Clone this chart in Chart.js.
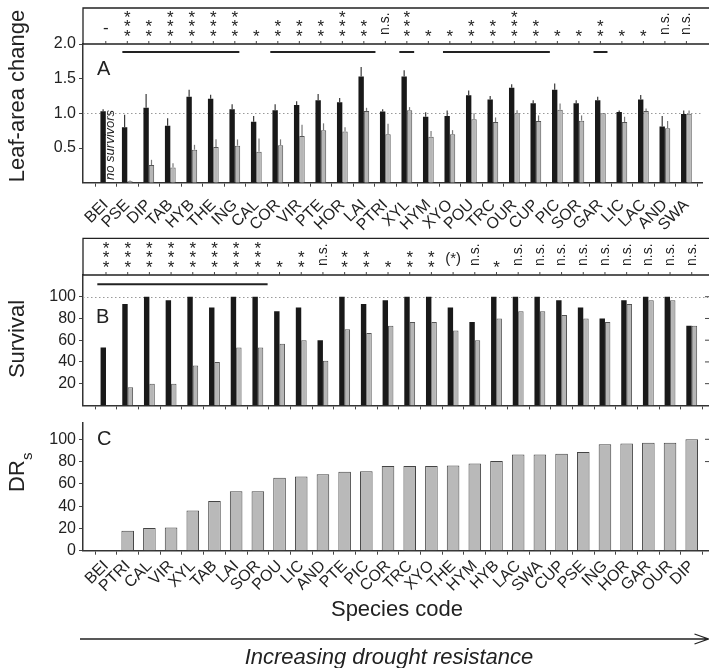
<!DOCTYPE html>
<html lang="en">
<head>
<meta charset="UTF-8">
<title>Leaf-area change, survival and drought resistance</title>
<script src="https://cdn.jsdelivr.net/npm/chart.js"></script>
<style>
  body { margin: 0; background: #fff; }
  #wrap { position: relative; width: 709px; height: 668px; overflow: hidden; }
  #wrap canvas { position: absolute; left: 0; }
  #panelA { top: 0; }
  #panelB { top: 234px; }
  #panelC { top: 410px; }
</style>
</head>
<body>
<div id="wrap">
  <canvas id="panelA" width="709" height="236"></canvas>
  <canvas id="panelB" width="709" height="184"></canvas>
  <canvas id="panelC" width="709" height="258"></canvas>
</div>
<script>
// species order for panels A and B
const speciesAB = ['BEI','PSE','DIP','TAB','HYB','THE','ING','CAL','COR','VIR','PTE','HOR','LAI','PTRI',
  'XYL','HYM','XYO','POU','TRC','OUR','CUP','PIC','SOR','GAR','LIC','LAC','AND','SWA'];

// A: leaf-area change (black = control, grey = drought), with SE
const leafControl   = [1.03,0.80,1.08,0.82,1.24,1.21,1.06,0.88,1.045,1.12,1.19,1.16,1.53,1.025,
  1.53,0.95,0.96,1.26,1.20,1.37,1.145,1.34,1.145,1.19,1.02,1.20,0.81,0.99];
const leafControlSE = [0.03,0.18,0.20,0.11,0.10,0.06,0.07,0.08,0.085,0.055,0.09,0.06,0.14,0.035,
  0.09,0.065,0.08,0.07,0.05,0.05,0.045,0.09,0.045,0.05,0.02,0.065,0.15,0.05];
const leafDrought   = [null,0.02,0.255,0.22,0.476,0.515,0.534,0.447,0.54,0.674,0.756,0.74,1.035,0.70,
  1.045,0.664,0.698,0.915,0.876,1.0,0.89,1.053,0.895,1.0,0.876,1.035,0.785,0.996];
const leafDroughtSE = [null,0.01,0.075,0.06,0.07,0.11,0.09,0.19,0.085,0.16,0.10,0.06,0.045,0.15,
  0.045,0.08,0.06,0.085,0.065,0.045,0.08,0.09,0.075,0,0.075,0.035,0.105,0.045];
const sigLeaf = ['-','***','**','***','***','***','***','*','**','**','**','***','**','n.s.',
  '***','*','*','**','**','***','**','*','*','**','*','*','n.s.','n.s.'];
const groupsLeaf = [[0.77,6.21],[7.65,12.54],[13.65,14.34],[15.68,20.65],[22.68,23.33]];

// B: survival (%)
const survControl = [53.3,93.3,100,96.7,100,90,100,100,86.7,90,60,100,93.3,96.7,
  100,100,90,76.7,100,100,100,96.7,90,80,96.7,100,100,73.3];
const survDrought = [null,16.7,20,20,36.7,40,53.3,53.3,56.7,60,41,70,66.7,73.3,
  76.7,76.7,69,60,80,86.7,86.7,83.3,80,76.7,93.3,96.7,96.7,73.3];
const sigSurv = ['***','***','***','***','***','***','***','***','*','**','n.s.','**','**','*',
  '**','**','(*)','n.s.','*','n.s.','n.s.','n.s.','n.s.','n.s.','n.s.','n.s.','n.s.','n.s.'];
const groupsSurv = [[-0.40,7.45]];

// C: drought resistance DRs, sorted
const speciesC = ['BEI','PTRI','CAL','VIR','XYL','TAB','LAI','SOR','POU','LIC','AND','PTE','PIC','COR',
  'TRC','XYO','THE','HYM','HYB','LAC','SWA','CUP','PSE','ING','HOR','GAR','OUR','DIP'];
const drs = [0,18,20.3,20.9,36,44.7,53.4,53.4,65.5,66.7,68.7,70.8,71.3,76,
  76,76,76.5,78.3,80.6,86.4,86.4,87,88.7,95.6,96.2,96.8,96.8,100];

const yTicksA = [0.5, 1.0, 1.5, 2.0];
const yTicksB = [20, 40, 60, 80, 100];
const yTicksC = [0, 20, 40, 60, 80, 100];

const FONT = "'Liberation Sans', Arial, sans-serif";
const INK = '#222';
const BLACK = '#191919';
const GREY = '#b6b6b6';
const X_MIN = -1.06, X_MAX = 27.75;

function pts(arr) { return arr.map((v, i) => ({ x: i, y: v })); }

function xAxis(labels, showLabels, height, pad) {
  return {
    type: 'linear', min: X_MIN, max: X_MAX, offset: false,
    afterBuildTicks: s => { s.ticks = labels.map((_, i) => ({ value: i })); },
    afterFit: s => { s.height = height; },
    ticks: {
      display: showLabels, autoSkip: false, minRotation: 45, maxRotation: 45, padding: pad,
      color: INK, font: { family: FONT, size: 16 }, callback: v => labels[v]
    },
    grid: { drawOnChartArea: false, tickLength: 4, color: '#444', lineWidth: 1 },
    border: { color: '#333', width: 1.5 }
  };
}

function yAxis(max, ticks, fmt) {
  return {
    min: 0, max: max,
    afterBuildTicks: s => { s.ticks = ticks.map(v => ({ value: v })); },
    afterFit: s => { s.width = 83; },
    ticks: { color: INK, padding: 3, font: { family: FONT, size: 16 }, callback: fmt },
    grid: { drawOnChartArea: false, tickLength: 4, color: '#444' },
    border: { color: '#333', width: 1.5 }
  };
}

function drawSig(ctx, s, x, base) {
  ctx.fillStyle = INK;
  if (/^\*+$/.test(s)) {
    ctx.font = '17px ' + FONT;
    ctx.textAlign = 'center';
    ctx.textBaseline = 'alphabetic';
    for (let k = 0; k < s.length; k++) {
      ctx.fillText('*', x, base - 12 - k * 9.4 + 9.7);
    }
  } else if (s === 'n.s.') {
    ctx.save();
    ctx.translate(x, base - 9);
    ctx.rotate(-Math.PI / 2);
    ctx.font = '14px ' + FONT;
    ctx.textAlign = 'left';
    ctx.textBaseline = 'middle';
    ctx.fillText(s, 0, 0);
    ctx.restore();
  } else {
    ctx.font = (s === '-' ? '17px ' : '15px ') + FONT;
    ctx.textAlign = 'center';
    ctx.textBaseline = 'middle';
    ctx.fillText(s, x, base - 16);
  }
}

const decor = {
  id: 'decor',
  beforeDatasetsDraw(chart, args, o) {
    if (o.refValue == null) return;
    const { ctx, chartArea: a } = chart;
    const y = Math.round(chart.scales.y.getPixelForValue(o.refValue)) + 0.5;
    ctx.save();
    ctx.strokeStyle = '#9a9a9a';
    ctx.lineWidth = 1;
    ctx.setLineDash([1.5, 2.5]);
    ctx.beginPath(); ctx.moveTo(a.left, y); ctx.lineTo(a.right, y); ctx.stroke();
    ctx.restore();
  },
  afterDatasetsDraw(chart) {
    const { ctx } = chart;
    const ys = chart.scales.y;
    chart.data.datasets.forEach((ds, i) => {
      if (!ds.errors) return;
      const meta = chart.getDatasetMeta(i);
      ctx.save();
      ctx.strokeStyle = ds.errorColor;
      ctx.lineWidth = 1.2;
      meta.data.forEach((el, j) => {
        const v = ds.data[j].y, e = ds.errors[j];
        if (v == null || !e) return;
        ctx.beginPath();
        ctx.moveTo(el.x, el.y);
        ctx.lineTo(el.x, ys.getPixelForValue(v + e));
        ctx.stroke();
      });
      ctx.restore();
    });
  },
  afterDraw(chart, args, o) {
    const { ctx, chartArea: a } = chart;
    const xs = chart.scales.x;
    ctx.save();
    if (o.sig) {
      // significance strip above the plot
      ctx.strokeStyle = '#222';
      ctx.lineWidth = 1.3;
      ctx.beginPath();
      ctx.moveTo(a.left, a.top); ctx.lineTo(a.left, o.stripTop);
      ctx.lineTo(chart.width, o.stripTop);
      ctx.moveTo(a.left, a.top); ctx.lineTo(chart.width, a.top);
      ctx.stroke();
      ctx.lineWidth = 1;
      ctx.strokeStyle = '#444';
      o.sig.forEach((s, i) => {
        const x = xs.getPixelForValue(i);
        ctx.beginPath(); ctx.moveTo(x, a.top); ctx.lineTo(x, a.top - 3); ctx.stroke();
        drawSig(ctx, s, x, a.top);
      });
      ctx.strokeStyle = '#222';
      ctx.lineWidth = 2;
      o.groups.forEach(g => {
        ctx.beginPath();
        ctx.moveTo(xs.getPixelForValue(g[0]), a.top + o.groupOffset);
        ctx.lineTo(xs.getPixelForValue(g[1]), a.top + o.groupOffset);
        ctx.stroke();
      });
    }
    if (o.rightTicks) {
      ctx.strokeStyle = '#444';
      ctx.lineWidth = 1;
      o.rightTicks.forEach(v => {
        const y = chart.scales.y.getPixelForValue(v);
        ctx.beginPath(); ctx.moveTo(chart.width - 4, y); ctx.lineTo(chart.width, y); ctx.stroke();
      });
    }
    (o.texts || []).forEach(t => {
      ctx.save();
      ctx.translate(t.x, t.y);
      if (t.rotate) ctx.rotate(t.rotate);
      ctx.fillStyle = INK;
      ctx.font = t.font;
      ctx.textAlign = t.align || 'center';
      ctx.textBaseline = t.baseline || 'alphabetic';
      ctx.fillText(t.text, 0, 0);
      if (t.sub) {
        const w = ctx.measureText(t.text).width;
        ctx.font = t.subFont;
        ctx.textAlign = 'left';
        ctx.fillText(t.sub, w / 2, t.subDrop);
      }
      ctx.restore();
    });
    if (o.arrow) {
      const [x0, x1, y] = o.arrow;
      ctx.strokeStyle = '#222';
      ctx.lineWidth = 1.3;
      ctx.beginPath();
      ctx.moveTo(x0, y); ctx.lineTo(x1, y);
      ctx.moveTo(x1 - 14, y - 5); ctx.lineTo(x1, y); ctx.lineTo(x1 - 14, y + 5);
      ctx.stroke();
    }
    ctx.restore();
  }
};

const common = {
  responsive: false,
  maintainAspectRatio: false,
  animation: false,
  events: []
};

// Panel A
new Chart(document.getElementById('panelA'), {
  type: 'bar',
  data: {
    datasets: [
      { data: pts(leafControl), errors: leafControlSE, errorColor: '#3a3a3a',
        backgroundColor: BLACK, borderWidth: 0 },
      { data: pts(leafDrought), errors: leafDroughtSE, errorColor: '#7a7a7a',
        backgroundColor: GREY, borderColor: '#555', borderWidth: 1 }
    ]
  },
  options: Object.assign({}, common, {
    categoryPercentage: 0.5, barPercentage: 1,
    layout: { padding: { top: 44, right: 1, left: 0, bottom: 0 } },
    scales: {
      x: xAxis(speciesAB, true, 236 - 182.7, 9),
      y: yAxis(2, yTicksA, v => v.toFixed(1))
    },
    plugins: {
      legend: { display: false }, tooltip: { enabled: false },
      decor: {
        refValue: 1.0, sig: sigLeaf, groups: groupsLeaf, stripTop: 8, groupOffset: 8,
        texts: [
          { text: 'Leaf-area change', x: 24, y: 96, rotate: -Math.PI / 2, font: '22px ' + FONT },
          { text: 'A', x: 97, y: 75, align: 'left', font: '20px ' + FONT },
          { text: 'no survivors', x: 110.5, y: 180, rotate: -Math.PI / 2, align: 'left',
            baseline: 'middle', font: 'italic 13px ' + FONT }
        ]
      }
    }
  }),
  plugins: [decor]
});

// Panel B
new Chart(document.getElementById('panelB'), {
  type: 'bar',
  data: {
    datasets: [
      { data: pts(survControl), backgroundColor: BLACK, borderWidth: 0 },
      { data: pts(survDrought), backgroundColor: GREY, borderColor: '#555', borderWidth: 1 }
    ]
  },
  options: Object.assign({}, common, {
    categoryPercentage: 0.5, barPercentage: 1,
    layout: { padding: { top: 41, right: 1, left: 0, bottom: 0 } },
    scales: {
      x: xAxis(speciesAB, false, 184 - 178.7, 0),
      y: yAxis(120, yTicksB, v => String(v))
    },
    plugins: {
      legend: { display: false }, tooltip: { enabled: false },
      decor: {
        refValue: 100, sig: sigSurv, groups: groupsSurv, stripTop: 4.3, groupOffset: 9.3,
        rightTicks: yTicksB,
        texts: [
          { text: 'Survival', x: 24, y: 105, rotate: -Math.PI / 2, font: '22px ' + FONT },
          { text: 'B', x: 96, y: 89, align: 'left', font: '20px ' + FONT }
        ]
      }
    }
  }),
  plugins: [decor]
});

// Panel C
new Chart(document.getElementById('panelC'), {
  type: 'bar',
  data: {
    datasets: [
      { data: pts(drs), backgroundColor: '#b9b9b9', borderColor: '#444', borderWidth: 1 }
    ]
  },
  options: Object.assign({}, common, {
    categoryPercentage: 0.58, barPercentage: 1,
    layout: { padding: { top: 8.5, right: 1, left: 0, bottom: 0 } },
    scales: {
      x: xAxis(speciesC, true, 258 - 140.7, 2),
      y: yAxis(115, yTicksC, v => String(v))
    },
    plugins: {
      legend: { display: false }, tooltip: { enabled: false },
      decor: {
        rightTicks: [80, 100],
        arrow: [80, 708.5, 229],
        texts: [
          { text: 'DR', sub: 's', x: 24, y: 66, rotate: -Math.PI / 2, font: '22px ' + FONT,
            subFont: '15px ' + FONT, subDrop: 8 },
          { text: 'C', x: 97, y: 35, align: 'left', font: '20px ' + FONT },
          { text: 'Species code', x: 397, y: 206, font: '22px ' + FONT },
          { text: 'Increasing drought resistance', x: 389, y: 254, font: 'italic 22px ' + FONT }
        ]
      }
    }
  }),
  plugins: [decor]
});
</script>
</body>
</html>
